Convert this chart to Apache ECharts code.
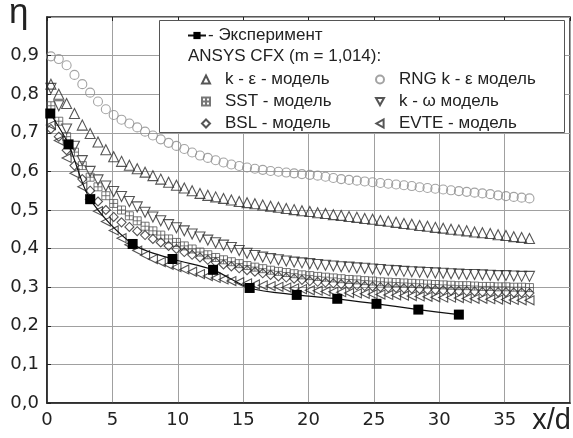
<!DOCTYPE html>
<html>
<head>
<meta charset="utf-8">
<script src="https://cdn.jsdelivr.net/npm/echarts@6/dist/echarts.min.js"></script>
<style>
  html, body { margin: 0; padding: 0; background: #fff; }
  #chart { width: 573px; height: 438px; }
</style>
</head>
<body>
<div id="chart"></div>
<script>
// эксперимент
const expX = [0.25, 1.65, 3.3, 6.55, 9.6, 12.7, 15.5, 19.1, 22.2, 25.2, 28.4, 31.5];
const expY = [0.75, 0.67, 0.528, 0.412, 0.373, 0.345, 0.298, 0.28, 0.27, 0.257, 0.242, 0.229];

// расчётные точки ANSYS CFX (общая сетка x/d)
const simX = [0.3, 0.9, 1.5, 2.1, 2.7, 3.3, 3.9, 4.5, 5.1, 5.7, 6.3, 6.9, 7.5, 8.1, 8.7, 9.3, 9.9, 10.5, 11.1, 11.7,
  12.3, 12.9, 13.5, 14.1, 14.7, 15.3, 15.9, 16.5, 17.1, 17.7, 18.3, 18.9, 19.5, 20.1, 20.7, 21.3, 21.9, 22.5, 23.1, 23.7,
  24.3, 24.9, 25.5, 26.1, 26.7, 27.3, 27.9, 28.5, 29.1, 29.7, 30.3, 30.9, 31.5, 32.1, 32.7, 33.3, 33.9, 34.5, 35.1, 35.7,
  36.3, 36.9];

const kEps = [0.826, 0.8, 0.776, 0.75, 0.72, 0.698, 0.676, 0.656, 0.638, 0.626, 0.616, 0.607, 0.598, 0.589, 0.58, 0.572, 0.564, 0.557, 0.55, 0.543,
  0.538, 0.534, 0.53, 0.526, 0.522, 0.519, 0.516, 0.513, 0.51, 0.507, 0.504, 0.501, 0.498, 0.496, 0.493, 0.491, 0.488, 0.486, 0.483, 0.481,
  0.478, 0.476, 0.473, 0.471, 0.468, 0.465, 0.463, 0.46, 0.458, 0.455, 0.453, 0.45, 0.448, 0.446, 0.443, 0.441, 0.439, 0.436, 0.434, 0.431,
  0.429, 0.426];

const rngKEps = [0.898, 0.891, 0.875, 0.85, 0.826, 0.804, 0.781, 0.761, 0.746, 0.734, 0.724, 0.714, 0.703, 0.693, 0.683, 0.674, 0.666, 0.658, 0.649, 0.641,
  0.635, 0.629, 0.623, 0.618, 0.614, 0.61, 0.607, 0.604, 0.601, 0.599, 0.597, 0.595, 0.593, 0.591, 0.589, 0.586, 0.583, 0.58, 0.578, 0.576,
  0.574, 0.572, 0.57, 0.568, 0.566, 0.564, 0.562, 0.559, 0.557, 0.555, 0.553, 0.551, 0.549, 0.547, 0.545, 0.543, 0.541, 0.538, 0.536, 0.534,
  0.532, 0.53];

const sst = [0.77, 0.73, 0.69, 0.65, 0.615, 0.585, 0.56, 0.537, 0.517, 0.5, 0.485, 0.472, 0.458, 0.446, 0.435, 0.425, 0.416, 0.407, 0.399, 0.391,
  0.384, 0.377, 0.371, 0.366, 0.361, 0.356, 0.352, 0.348, 0.344, 0.341, 0.338, 0.335, 0.332, 0.33, 0.328, 0.326, 0.324, 0.322, 0.32, 0.319,
  0.317, 0.316, 0.314, 0.313, 0.312, 0.311, 0.31, 0.309, 0.308, 0.307, 0.306, 0.305, 0.304, 0.304, 0.303, 0.302, 0.302, 0.301, 0.301, 0.3,
  0.3, 0.299];

const kOmega = [0.815, 0.77, 0.71, 0.665, 0.628, 0.6, 0.578, 0.562, 0.548, 0.535, 0.522, 0.508, 0.494, 0.482, 0.472, 0.462, 0.454, 0.446, 0.438, 0.43,
  0.422, 0.415, 0.409, 0.403, 0.395, 0.388, 0.382, 0.378, 0.374, 0.371, 0.368, 0.365, 0.363, 0.361, 0.359, 0.357, 0.355, 0.353, 0.352, 0.35,
  0.349, 0.347, 0.346, 0.344, 0.343, 0.341, 0.34, 0.339, 0.338, 0.337, 0.336, 0.335, 0.334, 0.333, 0.333, 0.332, 0.331, 0.33, 0.33, 0.329,
  0.328, 0.328];

const bsl = [0.71, 0.69, 0.655, 0.615, 0.58, 0.55, 0.522, 0.5, 0.482, 0.468, 0.456, 0.445, 0.435, 0.425, 0.416, 0.407, 0.399, 0.391, 0.384, 0.377,
  0.371, 0.365, 0.359, 0.354, 0.349, 0.344, 0.34, 0.336, 0.332, 0.328, 0.325, 0.322, 0.319, 0.316, 0.314, 0.312, 0.31, 0.308, 0.306, 0.305,
  0.303, 0.302, 0.3, 0.299, 0.298, 0.297, 0.296, 0.295, 0.294, 0.293, 0.292, 0.291, 0.29, 0.29, 0.289, 0.288, 0.288, 0.287, 0.287, 0.286,
  0.286, 0.285];

const evte = [0.72, 0.68, 0.635, 0.595, 0.56, 0.528, 0.497, 0.47, 0.447, 0.427, 0.41, 0.395, 0.383, 0.373, 0.365, 0.358, 0.352, 0.346, 0.34, 0.334,
  0.329, 0.324, 0.32, 0.316, 0.313, 0.31, 0.307, 0.305, 0.303, 0.301, 0.299, 0.297, 0.295, 0.292, 0.291, 0.289, 0.288, 0.287, 0.285, 0.284,
  0.283, 0.282, 0.281, 0.28, 0.279, 0.278, 0.277, 0.276, 0.275, 0.274, 0.273, 0.273, 0.272, 0.271, 0.27, 0.27, 0.269, 0.268, 0.268, 0.267,
  0.266, 0.266];

const xTicks = [0, 5, 10, 15, 20, 25, 30, 35];

const FONT = 'Liberation Sans, Arial, sans-serif';
const TICK_FONT = 'DejaVu Sans, sans-serif';

const SYM_SST = 'path://M0,0H10V10H0Z M5,0V10 M0,5H10';
const SYM_DOWN = 'path://M0,0L10,0L5,9Z';
const SYM_LEFT = 'path://M9,0L9,10L0,5Z';
const SYM_DIAMOND = 'path://M5,0L10,5L5,10L0,5Z';

function pairs(xs, ys) {
    return xs.map((x, i) => [x, ys[i]]);
}

function simSeries(name, data, symbol, size, color, width) {
    return {
        name: name,
        type: 'scatter',
        data: pairs(simX, data),
        symbol: symbol,
        symbolSize: size,
        z: 2,
        itemStyle: {
            color: 'transparent',
            borderColor: color,
            borderWidth: width
        },
        emphasis: { disabled: true }
    };
}

const chart = echarts.init(document.getElementById('chart'));

const legendText = { fontFamily: FONT, fontSize: 17, color: '#222', padding: [0, 0, 0, 10] };

chart.setOption({
    animation: false,
    backgroundColor: '#fff',
    grid: {
        left: 47, right: 3, top: 17, bottom: 35,
        show: true,
        borderColor: '#222',
        borderWidth: 1.5
    },
    xAxis: [{
        type: 'value',
        min: 0, max: 40, interval: 5,
        axisLine: { show: true, lineStyle: { color: '#222', width: 1.5 } },
        axisTick: { show: false },
        splitLine: { show: true, lineStyle: { color: '#a0a0a0', width: 1 } },
        axisLabel: {
            margin: 8,
            fontFamily: TICK_FONT, fontSize: 18, color: '#222',
            formatter: v => (xTicks.indexOf(v) >= 0 ? String(v) : '')
        }
    }, {
        type: 'value',
        position: 'top',
        min: 0, max: 40, interval: 5,
        axisLine: { show: false },
        axisTick: { show: true, inside: true, length: 4, lineStyle: { color: '#222' } },
        splitLine: { show: false },
        axisLabel: { show: false }
    }],
    yAxis: {
        type: 'value',
        min: 0, max: 1, interval: 0.1,
        axisLine: { show: true, lineStyle: { color: '#222', width: 1.5 } },
        axisTick: { show: true, inside: true, length: 4, lineStyle: { color: '#222' } },
        splitLine: { show: true, lineStyle: { color: '#a0a0a0', width: 1 } },
        axisLabel: {
            margin: 8,
            fontFamily: TICK_FONT, fontSize: 18, color: '#222',
            formatter: v => (v >= 0.999 ? '' : v.toFixed(1).replace('.', ','))
        }
    },
    graphic: [
        {
            type: 'rect', z: 10,
            shape: { x: 159.5, y: 20.5, width: 405, height: 112 },
            style: { fill: '#fff', stroke: '#555', lineWidth: 1 }
        },
        {
            type: 'text', z: 20, left: 188, top: 48,
            style: { text: 'ANSYS CFX (m = 1,014):', font: '17px ' + FONT, fill: '#222' }
        },
        {
            type: 'text', z: 20, left: 9, top: -4,
            style: { text: 'η', font: '35px ' + FONT, fill: '#222' }
        },
        {
            type: 'text', z: 20, right: 2, bottom: 3,
            style: { text: 'x/d', font: '29px ' + FONT, fill: '#222' }
        }
    ],
    legend: [{
        z: 20, left: 187, top: 27, padding: 0,
        itemWidth: 18, itemHeight: 9,
        textStyle: { fontFamily: FONT, fontSize: 17, color: '#222', padding: [0, 0, 0, -3] },
        formatter: n => '- ' + n,
        selectedMode: false,
        data: ['Эксперимент']
    }, {
        z: 20, left: 201, top: 71, padding: 0, orient: 'vertical',
        itemWidth: 8, itemHeight: 8, itemGap: 5,
        textStyle: legendText,
        selectedMode: false,
        data: ['k - ε - модель', 'SST - модель', 'BSL - модель']
    }, {
        z: 20, left: 375, top: 71, padding: 0, orient: 'vertical',
        itemWidth: 8, itemHeight: 8, itemGap: 5,
        textStyle: legendText,
        selectedMode: false,
        data: ['RNG k - ε модель', 'k - ω модель', 'EVTE - модель']
    }],
    series: [
        simSeries('RNG k - ε модель', rngKEps, 'circle', 9, '#8c8c8c', 1.1),
        simSeries('k - ε - модель', kEps, 'triangle', 10, '#2a2a2a', 1.1),
        simSeries('k - ω модель', kOmega, SYM_DOWN, 10, '#2a2a2a', 1.1),
        simSeries('SST - модель', sst, SYM_SST, 8, '#555', 1),
        simSeries('BSL - модель', bsl, SYM_DIAMOND, 9, '#2a2a2a', 1.1),
        simSeries('EVTE - модель', evte, SYM_LEFT, 9, '#2a2a2a', 1.1),
        {
            name: 'Эксперимент',
            type: 'line',
            data: pairs(expX, expY),
            smooth: 0.3,
            symbol: 'rect',
            symbolSize: 10,
            z: 5,
            lineStyle: { color: '#111', width: 1.2 },
            itemStyle: { color: '#000' },
            emphasis: { disabled: true }
        }
    ]
});
</script>
</body>
</html>
